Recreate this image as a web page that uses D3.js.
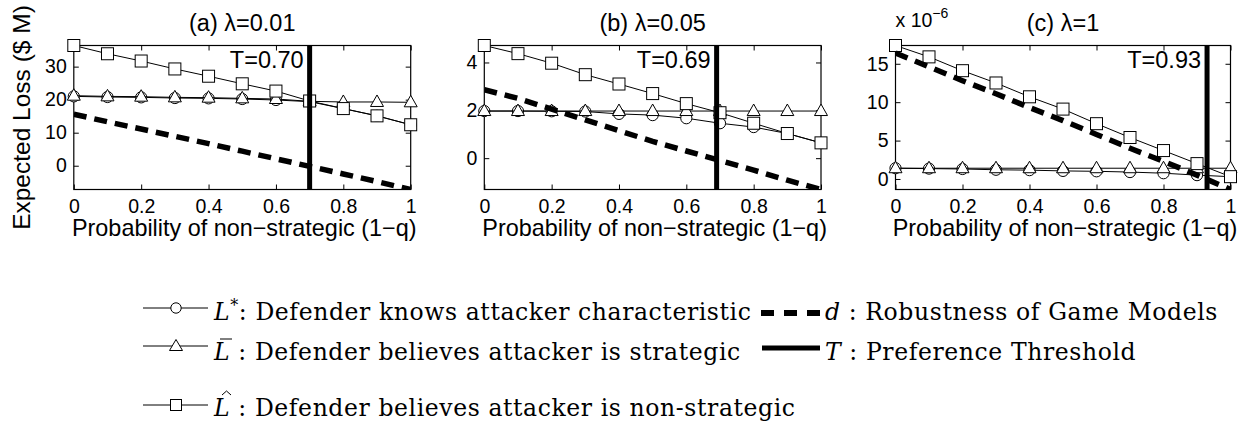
<!DOCTYPE html>
<html>
<head>
<meta charset="utf-8">
<script src="https://cdn.jsdelivr.net/npm/d3@7"></script>
<style>
body { margin: 0; background: #fff; }
svg text { font-family: "Liberation Sans", Arial, sans-serif; fill: #000; }
.legend text { font-family: "DejaVu Serif", "Liberation Serif", serif; letter-spacing: 0.6px; }
</style>
</head>
<body>
<svg id="chart" width="1252" height="427"></svg>
<script>
// x values: probability of non-strategic attacker (1-q)
const q = [0, 0.1, 0.2, 0.3, 0.4, 0.5, 0.6, 0.7, 0.8, 0.9, 1];
const xTicks = [0, 0.2, 0.4, 0.6, 0.8, 1];
const titles = ['(a) λ=0.01', '(b) λ=0.05', '(c) λ=1'];
const thresholds = [0.70, 0.69, 0.93];
const thresholdLabels = ['T=0.70', 'T=0.69', 'T=0.93'];

// (a) lambda = 0.01
const lStarA = [21.0, 20.8, 20.7, 20.5, 20.4, 20.2, 19.9, 19.4, 17.3, 15.1, 12.4];
const lBarA = [21.2, 21.0, 20.9, 20.7, 20.6, 20.4, 20.2, 19.5, 19.3, 19.3, 19.2];
const lHatA = [36.4, 33.9, 31.7, 29.3, 27.1, 24.8, 22.6, 19.6, 17.3, 15.1, 12.4];
const robustA = [15.6, 13.3, 11.1, 8.9, 6.7, 4.4, 2.1, -0.2, -2.5, -4.8, -7.2];
const yTicksA = [0, 10, 20, 30];
const yDomainA = [-7.2, 36.4];

// (b) lambda = 0.05
const lStarB = [1.97, 1.97, 1.96, 1.95, 1.85, 1.80, 1.67, 1.46, 1.30, 1.03, 0.64];
const lBarB = [1.97, 1.97, 1.97, 1.97, 1.97, 1.97, 1.97, 1.97, 1.97, 1.97, 1.97];
const lHatB = [4.71, 4.37, 3.97, 3.49, 3.10, 2.70, 2.28, 1.90, 1.46, 1.03, 0.64];
const robustB = [2.86, 2.50, 2.05, 1.60, 1.15, 0.70, 0.30, -0.10, -0.50, -0.92, -1.31];
const yTicksB = [0, 2, 4];
const yDomainB = [-1.31, 4.71];

// (c) lambda = 1, values in units of 1e-6
const lStarC = [1.40, 1.35, 1.30, 1.20, 1.15, 1.05, 1.00, 0.90, 0.75, 0.50, 0.30];
const lBarC = [1.40, 1.40, 1.40, 1.40, 1.40, 1.40, 1.40, 1.40, 1.40, 1.40, 1.40];
const lHatC = [17.38, 15.9, 14.1, 12.5, 10.7, 9.1, 7.2, 5.4, 3.7, 2.0, 0.3];
const robustC = [16.4, 14.6, 12.8, 11.1, 9.3, 7.6, 5.8, 4.0, 2.3, 0.5, -1.37];
const yTicksC = [0, 5, 10, 15];
const yDomainC = [-1.37, 17.38];

const legendLabels = [
    ': Defender knows attacker characteristic',
    ' : Defender believes attacker is strategic',
    ' : Defender believes attacker is non-strategic',
    ' : Robustness of Game Models',
    ' : Preference Threshold'
];

const svg = d3.select('#chart');
const plotTop = 45.5, plotBottom = 189.5;
const panels = [
    { left: 73.8, right: 410.7, star: lStarA, bar: lBarA, hat: lHatA, d: robustA, yTicks: yTicksA, yDomain: yDomainA },
    { left: 484.3, right: 821, star: lStarB, bar: lBarB, hat: lHatB, d: robustB, yTicks: yTicksB, yDomain: yDomainB },
    { left: 895.5, right: 1230.5, star: lStarC, bar: lBarC, hat: lHatC, d: robustC, yTicks: yTicksC, yDomain: yDomainC }
];

const triPath = 'M0,-7L6.5,4.5L-6.5,4.5Z';
const sq = 12;

function drawMarkers(g, data, x, y, kind) {
    const sel = g.selectAll('.m-' + kind).data(data).enter();
    if (kind === 'circle') {
        sel.append('circle')
            .attr('cx', (d, j) => x(q[j]))
            .attr('cy', d => y(d))
            .attr('r', 5.6)
            .attr('fill', '#fff').attr('stroke', '#000').attr('stroke-width', 1);
    } else if (kind === 'tri') {
        sel.append('path')
            .attr('d', triPath)
            .attr('transform', (d, j) => `translate(${x(q[j])},${y(d)})`)
            .attr('fill', '#fff').attr('stroke', '#000').attr('stroke-width', 1);
    } else {
        sel.append('rect')
            .attr('x', (d, j) => x(q[j]) - sq / 2)
            .attr('y', d => y(d) - sq / 2)
            .attr('width', sq).attr('height', sq)
            .attr('fill', '#fff').attr('stroke', '#000').attr('stroke-width', 1);
    }
}

panels.forEach((p, i) => {
    const x = d3.scaleLinear().domain([0, 1]).range([p.left, p.right]);
    const y = d3.scaleLinear().domain(p.yDomain).range([plotBottom, plotTop]);
    const g = svg.append('g');

    svg.append('clipPath').attr('id', 'clip' + i)
        .append('rect')
        .attr('x', p.left).attr('y', plotTop)
        .attr('width', p.right - p.left).attr('height', plotBottom - plotTop);

    // axes with inward ticks on all sides
    const fx = d3.format('~g');
    g.append('g').attr('transform', `translate(0,${plotBottom})`)
        .call(d3.axisBottom(x).tickValues(xTicks).tickSize(-5).tickPadding(10).tickFormat(fx));
    g.append('g').attr('transform', `translate(0,${plotTop})`)
        .call(d3.axisTop(x).tickValues(xTicks).tickSize(-5).tickFormat(''));
    g.append('g').attr('transform', `translate(${p.left},0)`)
        .call(d3.axisLeft(y).tickValues(p.yTicks).tickSize(-5).tickPadding(7).tickFormat(fx));
    g.append('g').attr('transform', `translate(${p.right},0)`)
        .call(d3.axisRight(y).tickValues(p.yTicks).tickSize(-5).tickFormat(''));
    g.selectAll('.domain').remove();
    g.selectAll('.tick line').attr('stroke', '#000').attr('stroke-width', 1);
    g.selectAll('.tick text').style('font-size', '19.5px').attr('fill', '#000');

    g.append('rect')
        .attr('x', p.left).attr('y', plotTop)
        .attr('width', p.right - p.left).attr('height', plotBottom - plotTop)
        .attr('fill', 'none').attr('stroke', '#000').attr('stroke-width', 1.2);

    const line = d3.line().x((d, j) => x(q[j])).y(d => y(d));

    [[p.star, 'circle'], [p.bar, 'tri'], [p.hat, 'square']].forEach(([vals, kind]) => {
        g.append('path').attr('d', line(vals))
            .attr('fill', 'none').attr('stroke', '#000').attr('stroke-width', 1);
        drawMarkers(g, vals, x, y, kind);
    });

    g.append('path').attr('d', line(p.d))
        .attr('clip-path', `url(#clip${i})`)
        .attr('fill', 'none').attr('stroke', '#000')
        .attr('stroke-width', 5.5).attr('stroke-dasharray', '13,8');

    g.append('line')
        .attr('x1', x(thresholds[i])).attr('x2', x(thresholds[i]))
        .attr('y1', plotTop).attr('y2', plotBottom)
        .attr('stroke', '#000').attr('stroke-width', 5);

    g.append('text')
        .attr('x', x(thresholds[i]) - 6).attr('y', 68)
        .attr('text-anchor', 'end')
        .style('font-size', '23.5px')
        .text(thresholdLabels[i]);

    g.append('text')
        .attr('x', (p.left + p.right) / 2).attr('y', 31)
        .attr('text-anchor', 'middle')
        .style('font-size', '23.5px')
        .text(titles[i]);

    g.append('text')
        .attr('x', (p.left + p.right) / 2 + 2).attr('y', 236)
        .attr('text-anchor', 'middle')
        .style('font-size', '23.4px')
        .text('Probability of non\u2212strategic (1\u2212q)');

    if (i === 2) {
        const ex = g.append('text').attr('x', p.left).attr('y', 27).style('font-size', '19.5px');
        ex.append('tspan').text('x 10');
        ex.append('tspan').attr('dy', -9).style('font-size', '14px').text('\u22126');
    }
});

svg.append('text')
    .attr('transform', `translate(30,${(plotTop + plotBottom) / 2}) rotate(-90)`)
    .attr('text-anchor', 'middle')
    .style('font-size', '24.5px')
    .text('Expected Loss ($ M)');

// legend
const leg = svg.append('g').attr('class', 'legend');
const sampleX = [143, 208];
const rows = [
    { kind: 'circle', my: 308, by: 320, label: legendLabels[0] },
    { kind: 'tri', my: 346, by: 360, label: legendLabels[1] },
    { kind: 'square', my: 405, by: 416, label: legendLabels[2] }
];
rows.forEach(r => {
    leg.append('line')
        .attr('x1', sampleX[0]).attr('x2', sampleX[1])
        .attr('y1', r.my).attr('y2', r.my)
        .attr('stroke', '#000').attr('stroke-width', 1);
    const cx = 176;
    if (r.kind === 'circle') {
        leg.append('circle').attr('cx', cx).attr('cy', r.my).attr('r', 5.2)
            .attr('fill', '#fff').attr('stroke', '#000');
    } else if (r.kind === 'tri') {
        leg.append('path').attr('d', 'M0,-6.5L6.5,4.5L-6.5,4.5Z').attr('transform', `translate(${cx},${r.my})`)
            .attr('fill', '#fff').attr('stroke', '#000');
    } else {
        leg.append('rect').attr('x', cx - 5.5).attr('y', r.my - 5.5).attr('width', 11).attr('height', 11)
            .attr('fill', '#fff').attr('stroke', '#000');
    }
    const t = leg.append('text').attr('x', 214).attr('y', r.by).style('font-size', '23.5px');
    t.append('tspan').style('font-style', 'italic').text('L');
    if (r.kind === 'circle') {
        t.append('tspan').attr('dy', -9).style('font-size', '16px').text('*');
        t.append('tspan').attr('dy', 9).text(r.label);
    } else {
        t.append('tspan').text(r.label);
    }
    if (r.kind === 'tri') {
        leg.append('line').attr('x1', 220).attr('x2', 232)
            .attr('y1', r.by - 21).attr('y2', r.by - 21)
            .attr('stroke', '#000').attr('stroke-width', 1);
    } else if (r.kind === 'square') {
        leg.append('path').attr('d', `M222,${r.by - 21}L226.5,${r.by - 25}L231,${r.by - 21}`)
            .attr('fill', 'none').attr('stroke', '#000').attr('stroke-width', 1);
    }
});

leg.append('line')
    .attr('x1', 761).attr('x2', 820).attr('y1', 313).attr('y2', 313)
    .attr('stroke', '#000').attr('stroke-width', 6).attr('stroke-dasharray', '13,10');
const td = leg.append('text').attr('x', 825).attr('y', 320).style('font-size', '23.5px');
td.append('tspan').style('font-style', 'italic').text('d');
td.append('tspan').text(legendLabels[3]);

leg.append('line')
    .attr('x1', 762).attr('x2', 820).attr('y1', 348).attr('y2', 348)
    .attr('stroke', '#000').attr('stroke-width', 5);
const tt = leg.append('text').attr('x', 825).attr('y', 360).style('font-size', '23.5px');
tt.append('tspan').style('font-style', 'italic').text('T');
tt.append('tspan').text(legendLabels[4]);
</script>
</body>
</html>
